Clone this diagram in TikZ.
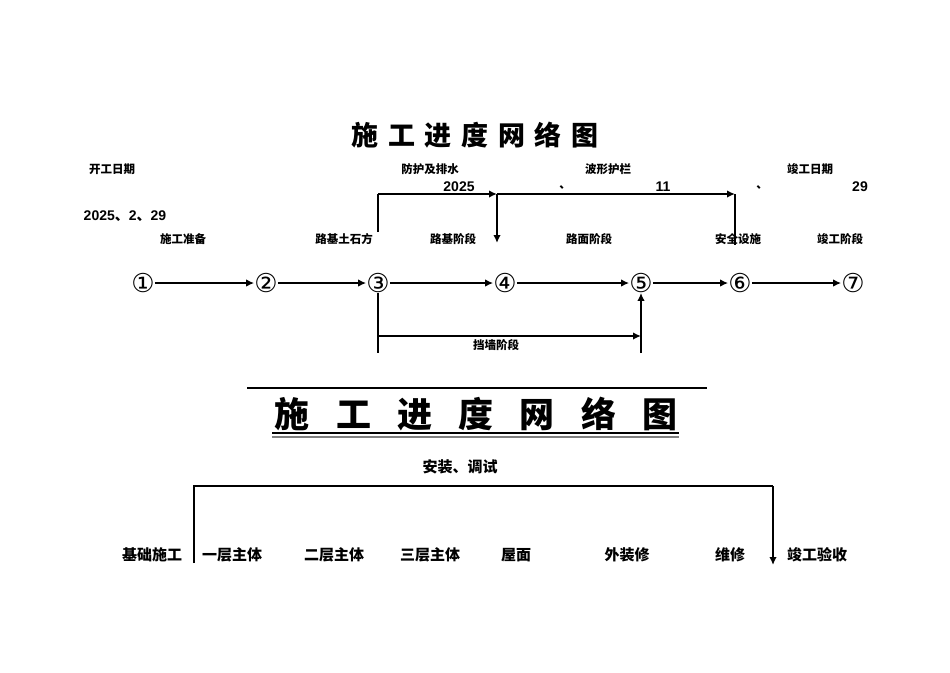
\documentclass[tikz,border=0pt]{standalone}
\usepackage{fontspec}
\setmainfont{Liberation Sans}
\newfontfamily\cjk{Noto Sans CJK SC}
\newfontfamily\circfont{DejaVu Sans}
\usetikzlibrary{arrows.meta}

\tikzset{
  lbl/.style={font=\cjk\bfseries\fontsize{11.5}{13}\selectfont, inner sep=0},
  blbl/.style={font=\cjk\bfseries\fontsize{15}{17}\selectfont, inner sep=0},
  num/.style={font=\bfseries\fontsize{14}{16}\selectfont, inner sep=0},
  ev/.style={font=\circfont\fontsize{26}{28}\selectfont, inner sep=0},
  ln/.style={line width=2pt},
  arr/.style={line width=2pt, -{Latex[length=8pt,width=7.5pt]}}
}

\begin{document}
\begin{tikzpicture}[x=1pt,y=-1pt]
\useasboundingbox (0,0) rectangle (950,672);

\node[font=\cjk\bfseries\fontsize{27}{29}\selectfont\addfontfeature{LetterSpace=36}] (title) at (475,135) {施工进度网络图};

\node[lbl] (kaigong) at (112,169) {开工日期};
\node[lbl] (fanghu) at (430,169) {防护及排水};
\node[lbl] (boxing) at (608,169) {波形护栏};
\node[lbl] (jungong) at (810,169) {竣工日期};

\node[num] (y2025) at (459,187) {2025};
\node[lbl] (dun1) at (565,187) {、};
\node[num] (m11) at (663,187) {11};
\node[lbl] (dun2) at (762,187) {、};
\node[num] (d29) at (860,187) {29};
\node[num] (start) at (125,216) {2025{\cjk 、}2{\cjk 、}29};

\node[lbl] (l12) at (183,239) {施工准备};
\node[lbl] (l23) at (344,239) {路基土石方};
\node[lbl] (l34) at (453,239) {路基阶段};
\node[lbl] (l45) at (589,239) {路面阶段};
\node[lbl] (l56) at (738,239) {安全设施};
\node[lbl] (l67) at (840,239) {竣工阶段};

\node[ev] (n1) at (143,283) {①};
\node[ev] (n2) at (266,283) {②};
\node[ev] (n3) at (378,283) {③};
\node[ev] (n4) at (505,283) {④};
\node[ev] (n5) at (641,283) {⑤};
\node[ev] (n6) at (740,283) {⑥};
\node[ev] (n7) at (853,283) {⑦};

\draw[arr] (n1) -- (n2);
\draw[arr] (n2) -- (n3);
\draw[arr] (n3) -- (n4);
\draw[arr] (n4) -- (n5);
\draw[arr] (n5) -- (n6);
\draw[arr] (n6) -- (n7);

\coordinate (a) at (378,232);
\coordinate (b) at (378,194);
\coordinate (c) at (497,194);
\coordinate (d) at (735,194);
\coordinate (e) at (497,243);
\coordinate (f) at (735,245);
\draw[ln] (a) -- (b);
\draw[arr] (b) -- (c);
\draw[arr] (c) -- (d);
\draw[arr] (c) -- (e);
\draw[ln] (d) -- (f);

\coordinate (g) at (378,353);
\coordinate (h) at (378,336);
\coordinate (i) at (641,336);
\coordinate (j) at (641,353);
\draw[ln] (n3) -- (g);
\draw[arr] (h) -- (i);
\draw[arr] (j) -- (n5);
\node[lbl] (dangqiang) at (496,345) {挡墙阶段};

\coordinate (t1) at (247,388);
\coordinate (t2) at (707,388);
\draw[line width=1.8pt] (t1) -- (t2);
\node[font=\cjk\bfseries\fontsize{35}{38}\selectfont\addfontfeature{LetterSpace=75}] (title2) at (476,414) {施工进度网络图};
\coordinate (u1) at (272,433);
\coordinate (u2) at (679,433);
\coordinate (v1) at (272,436.5);
\coordinate (v2) at (679,436.5);
\draw[line width=1.2pt] (u1) -- (u2);
\draw[line width=2pt, gray] (v1) -- (v2);

\node[blbl] (anzhuang) at (460,467) {安装、调试};
\coordinate (p) at (194,563);
\coordinate (q) at (194,486);
\coordinate (r) at (773,486);
\coordinate (s) at (773,565);
\draw[ln] (p) -- (q) -- (r);
\draw[arr] (r) -- (s);

\node[blbl] (jichu) at (152,555) {基础施工};
\node[blbl] (yiceng) at (232,555) {一层主体};
\node[blbl] (erceng) at (334,555) {二层主体};
\node[blbl] (sanceng) at (430,555) {三层主体};
\node[blbl] (wumian) at (516,555) {屋面};
\node[blbl] (waizhuang) at (627,555) {外装修};
\node[blbl] (weixiu) at (730,555) {维修};
\node[blbl] (yanshou) at (817,555) {竣工验收};
\end{tikzpicture}
\end{document}
